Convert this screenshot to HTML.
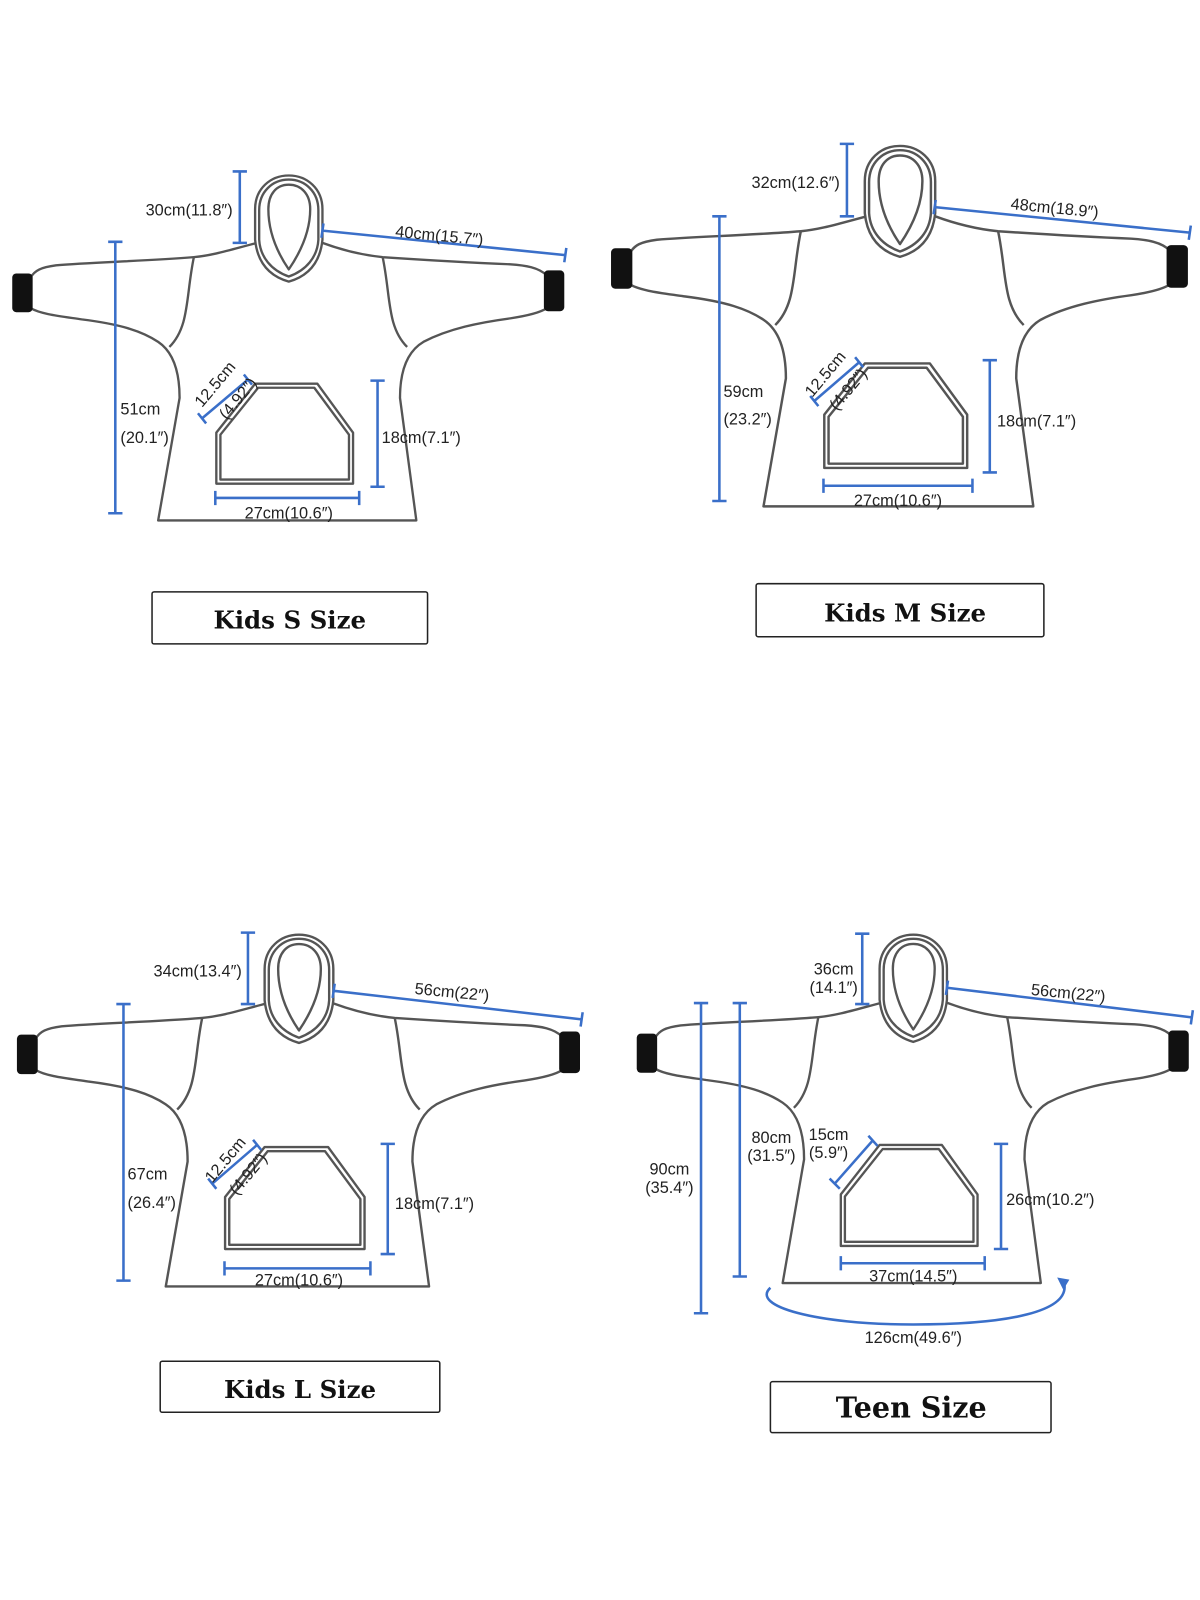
<!DOCTYPE html>
<html><head><meta charset="utf-8"><style>
html,body{margin:0;padding:0;background:#fff;width:1200px;height:1600px;overflow:hidden}
svg{display:block}
text{font-family:"Liberation Sans",sans-serif;font-size:16px;fill:#222}
.t{font-family:"DejaVu Serif","Liberation Serif",serif;font-weight:bold;font-size:24px;fill:#111}
</style></head><body>
<svg width="1200" height="1600" viewBox="0 0 1176 1568" preserveAspectRatio="none" xmlns="http://www.w3.org/2000/svg">
<defs>
<g id="h" fill="none" stroke="#555" stroke-width="2.3" stroke-linejoin="round">
<path d="M252,238 C225,245 210,250 190,252 C140,256 90,257 55,260 C40,262 34,265 30,272"/>
<path d="M30,302 C40,308 60,310 80,313 C120,318 140,325 155,335 C170,345 176,365 176,390 L155,510 L408,510 L392,390 C392,365 398,345 415,335 C440,322 470,316 500,312 C520,309 530,306 536,302"/>
<path d="M536,270 C528,262 515,260 500,259 C450,257 420,255 375,252 C355,250 335,245 316,238"/>
<path d="M190,252 C182,290 186,320 166,340"/>
<path d="M375,252 C383,290 379,320 399,340"/>
<path d="M283,276 C262,270 252,255 250,235 L250,205 C250,185 265,172 283,172 C301,172 316,185 316,205 L316,235 C314,255 304,270 283,276 Z" fill="#fff"/>
<path d="M283,271 C266,265 255,252 254,235 L254,206 C254,188 267,176 283,176 C299,176 312,188 312,206 L312,235 C311,252 300,265 283,271 Z"/>
<path d="M283,264 C270,245 263,225 263,205 C263,190 271,181 283,181 C295,181 304,190 304,205 C304,225 296,245 283,264 Z"/>
<path d="M250,376 L311,376 L346,424 L346,474 L212,474 L212,424 Z"/>
<path d="M253,380 L308,380 L342,426 L342,470 L216,470 L216,426 Z"/>
<rect x="12" y="268" width="20" height="38" rx="4" fill="#111" stroke="none"/>
<rect x="533" y="265" width="20" height="40" rx="4" fill="#111" stroke="none"/>
</g>
</defs>

<use href="#h"/>
<use href="#h" transform="translate(882,143) scale(1.045) translate(-283,-172)"/>
<use href="#h" transform="translate(293,916) scale(1.02) translate(-283,-172)"/>
<use href="#h" transform="translate(895,916) scale(1.0,1.01) translate(-283,-172)"/>

<g stroke="#3a6fc9" stroke-width="2.5" fill="none">
<path d="M235,168V238M228,168H242M228,238H242"/>
<path d="M316,226L554,250M317,219L315,233M555,243L553,257"/>
<path d="M113,237V503M106,237H120M106,503H120"/>
<path d="M370,373V477M363,373H377M363,477H377"/>
<path d="M211,488H352M211,481V495M352,481V495"/>
<path d="M198,410L243,372M194,405L202,415M239,367L247,377"/>
<path d="M830,141V212M823,141H837M823,212H837"/>
<path d="M916,203L1166,228M917,196L915,210M1167,221L1165,235"/>
<path d="M705,212V491M698,212H712M698,491H712"/>
<path d="M970,353V463M963,353H977M963,463H977"/>
<path d="M807,476H953M807,469V483M953,469V483"/>
<path d="M798,393L842,355M794,388L802,398M838,350L846,360"/>
<path d="M243,914V984M236,914H250M236,984H250"/>
<path d="M327,971L570,999M328,964L326,978M571,992L569,1006"/>
<path d="M121,984V1255M114,984H128M114,1255H128"/>
<path d="M380,1121V1229M373,1121H387M373,1229H387"/>
<path d="M220,1243H363M220,1236V1250M363,1236V1250"/>
<path d="M208,1160L252,1122M204,1155L212,1165M248,1117L256,1127"/>
<path d="M845,915V984M838,915H852M838,984H852"/>
<path d="M928,968L1168,997M929,961L927,975M1169,990L1167,1004"/>
<path d="M687,983V1287M680,983H694M680,1287H694"/>
<path d="M725,983V1251M718,983H732M718,1251H732"/>
<path d="M981,1121V1224M974,1121H988M974,1224H988"/>
<path d="M824,1238H965M824,1231V1245M965,1231V1245"/>
<path d="M818,1160L855,1118M813,1155L823,1165M851,1113L860,1123"/>
<path d="M755,1262 C735,1280 800,1298 895,1298 C990,1298 1048,1285 1043,1258"/>
</g>
<path d="M1048,1254 L1036,1252 L1042,1264 Z" fill="#3a6fc9"/>

<text x="228" y="211" text-anchor="end">30cm(11.8″)</text>
<text x="387" y="232" transform="rotate(5.5 387 232)">40cm(15.7″)</text>
<text x="118" y="406">51cm</text>
<text x="118" y="434">(20.1″)</text>
<text x="374" y="434">18cm(7.1″)</text>
<text x="283" y="508" text-anchor="middle">27cm(10.6″)</text>
<text x="198" y="400" transform="rotate(-50 198 400)">12.5cm</text>
<text x="222" y="412" transform="rotate(-50 222 412)">(4.92″)</text>
<rect x="149" y="580" width="270" height="51" fill="none" stroke="#222" stroke-width="1.5" rx="2"/>
<text class="t" x="284" y="616" text-anchor="middle">Kids S Size</text>

<text x="823" y="184" text-anchor="end">32cm(12.6″)</text>
<text x="990" y="205" transform="rotate(5.5 990 205)">48cm(18.9″)</text>
<text x="709" y="389">59cm</text>
<text x="709" y="416">(23.2″)</text>
<text x="977" y="418">18cm(7.1″)</text>
<text x="880" y="496" text-anchor="middle">27cm(10.6″)</text>
<text x="796" y="390" transform="rotate(-50 796 390)">12.5cm</text>
<text x="820" y="403" transform="rotate(-50 820 403)">(4.92″)</text>
<rect x="741" y="572" width="282" height="52" fill="none" stroke="#222" stroke-width="1.5" rx="2"/>
<text class="t" x="887" y="609" text-anchor="middle">Kids M Size</text>

<text x="237" y="957" text-anchor="end">34cm(13.4″)</text>
<text x="406" y="974" transform="rotate(5.5 406 974)">56cm(22″)</text>
<text x="125" y="1156">67cm</text>
<text x="125" y="1184">(26.4″)</text>
<text x="387" y="1185">18cm(7.1″)</text>
<text x="293" y="1260" text-anchor="middle">27cm(10.6″)</text>
<text x="208" y="1160" transform="rotate(-50 208 1160)">12.5cm</text>
<text x="232" y="1172" transform="rotate(-50 232 1172)">(4.92″)</text>
<rect x="157" y="1334" width="274" height="50" fill="none" stroke="#222" stroke-width="1.5" rx="2"/>
<text class="t" x="294" y="1370" text-anchor="middle">Kids L Size</text>

<text x="817" y="955" text-anchor="middle">36cm</text>
<text x="817" y="973" text-anchor="middle">(14.1″)</text>
<text x="1010" y="975" transform="rotate(5.5 1010 975)">56cm(22″)</text>
<text x="656" y="1151" text-anchor="middle">90cm</text>
<text x="656" y="1169" text-anchor="middle">(35.4″)</text>
<text x="756" y="1120" text-anchor="middle">80cm</text>
<text x="756" y="1138" text-anchor="middle">(31.5″)</text>
<text x="812" y="1117" text-anchor="middle">15cm</text>
<text x="812" y="1135" text-anchor="middle">(5.9″)</text>
<text x="986" y="1181">26cm(10.2″)</text>
<text x="895" y="1256" text-anchor="middle">37cm(14.5″)</text>
<text x="895" y="1316" text-anchor="middle">126cm(49.6″)</text>
<rect x="755" y="1354" width="275" height="50" fill="none" stroke="#222" stroke-width="1.5" rx="2"/>
<text class="t" x="893" y="1389" text-anchor="middle" style="font-size:28px">Teen Size</text>
</svg>
</body></html>
